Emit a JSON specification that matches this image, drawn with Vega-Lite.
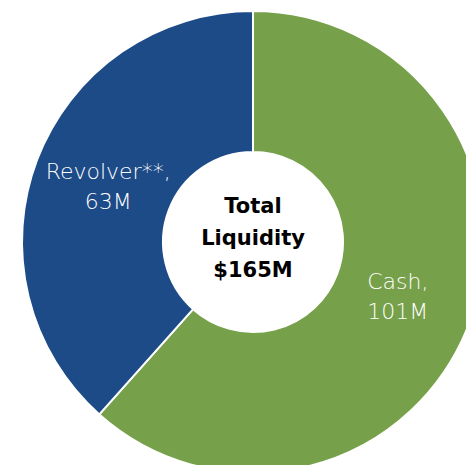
{
  "$schema": "https://vega.github.io/schema/vega-lite/v6.json",
  "autosize": "none",
  "width": 506,
  "height": 484,
  "padding": 0,
  "background": "white",
  "view": {"stroke": null},
  "data": {"values": [
    {"cat": "Cash", "value": 101, "order": 1, "label": "Cash,\n101M"},
    {"cat": "Revolver**", "value": 63, "order": 2, "label": "Revolver**,\n63M"}
  ]},
  "layer": [
    {
      "mark": {"type": "arc", "radius": 231, "radius2": 90, "stroke": "white", "strokeWidth": 2},
      "encoding": {
        "theta": {"field": "value", "type": "quantitative", "stack": true},
        "order": {"field": "order", "type": "quantitative"},
        "color": {"field": "cat", "type": "nominal", "scale": {"domain": ["Cash", "Revolver**"], "range": ["#77a04a", "#1d4b88"]}, "legend": null}
      }
    },
    {
      "mark": {"type": "text", "radius": 155, "dy": -15, "lineBreak": "\n", "font": "DejaVu Sans", "fontWeight": 200, "fontSize": 22, "lineHeight": 30, "color": "white", "align": "center", "baseline": "middle"},
      "encoding": {
        "theta": {"field": "value", "type": "quantitative", "stack": true},
        "order": {"field": "order", "type": "quantitative"},
        "text": {"field": "label", "type": "nominal"}
      }
    },
    {
      "data": {"values": [{"center": "Total\nLiquidity\n$165M"}]},
      "mark": {"type": "text", "dy": -35, "lineBreak": "\n", "font": "DejaVu Sans", "fontWeight": "bold", "fontSize": 21, "lineHeight": 32, "color": "black", "align": "center", "baseline": "middle"},
      "encoding": {
        "text": {"field": "center", "type": "nominal"}
      }
    }
  ]
}
